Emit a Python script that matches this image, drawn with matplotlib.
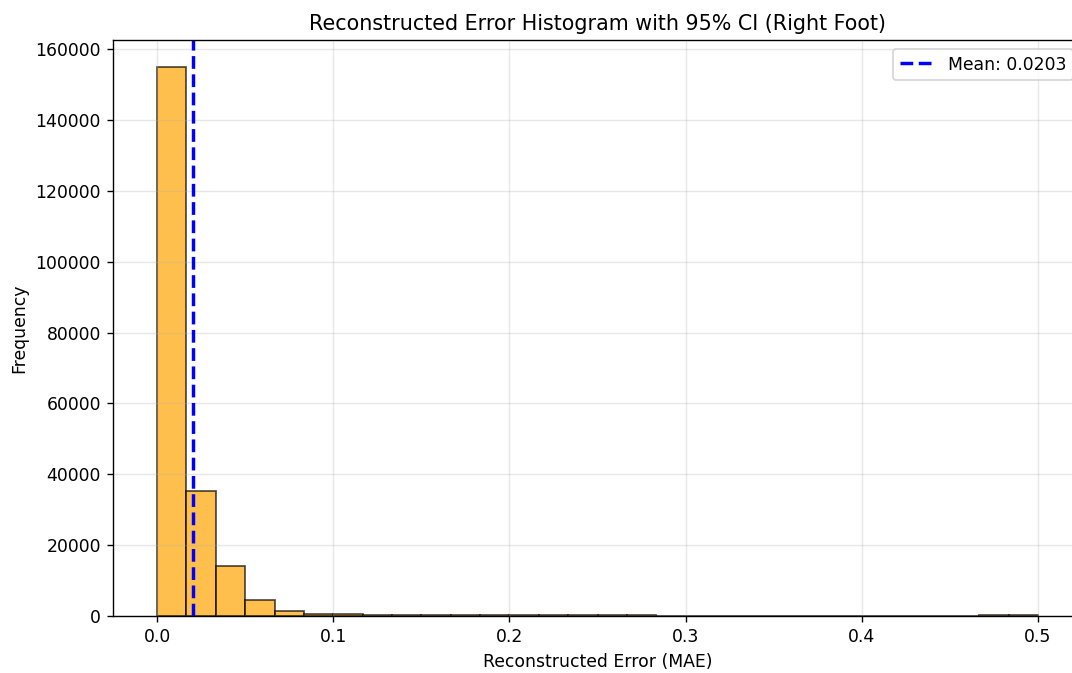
import numpy as np
import matplotlib
matplotlib.use("Agg")
import matplotlib.pyplot as plt

bin_start = 0.0
bin_end = 0.5
n_bins = 30
counts = [154800, 35300, 14000, 4400, 1400, 700, 500, 400, 350, 300,
          250, 220, 200, 180, 170, 160, 150, 140, 140, 130,
          130, 120, 120, 110, 110, 110, 100, 100, 420, 150]
mean_err = 0.0203

edges = np.linspace(bin_start, bin_end, n_bins + 1)
centers = (edges[:-1] + edges[1:]) / 2

DPI = 124
fig = plt.figure(figsize=(1072 / DPI, 673 / DPI), dpi=DPI)
ax = fig.add_axes([113 / 1072, 57 / 673, 969 / 1072, 576 / 673])

ax.hist(centers, bins=edges, weights=counts, color="orange", alpha=0.7,
        edgecolor="black", linewidth=1.0)
ax.axvline(mean_err, color="blue", linestyle="--", linewidth=2,
           label=f"Mean: {mean_err:.4f}")

ax.set_title("Reconstructed Error Histogram with 95% CI (Right Foot)")
ax.set_xlabel("Reconstructed Error (MAE)")
ax.set_ylabel("Frequency")
ax.legend(loc="upper right")
ax.grid(alpha=0.3)

fig.savefig("out.png", dpi=DPI)
